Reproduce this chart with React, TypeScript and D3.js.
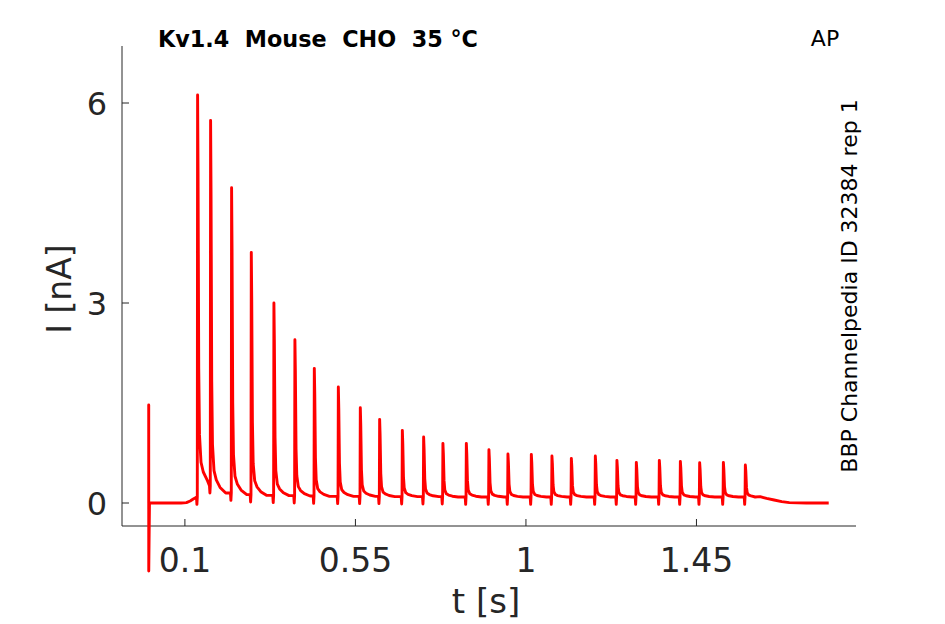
import React from "react";
import * as d3 from "d3";

// ---- data ----
const titleText = "Kv1.4  Mouse  CHO  35 °C";
const protocolText = "AP";
const sideText = "BBP Channelpedia ID 32384 rep 1";
const xTicks = [0.1, 0.55, 1, 1.45];
const xTickLabels = ["0.1", "0.55", "1", "1.45"];
const yTicks = [0, 3, 6];
const yTickLabels = ["0", "3", "6"];

// opening capacitive artefact and pre-train baseline (t [s], I [nA])
const startT = [0.0045, 0.0045, 0.0046, 0.0065, 0.05, 0.09, 0.104, 0.114, 0.122, 0.129];
const startI = [0.0, 1.47, -1.02, 0.0, 0.0, 0.0, 0.005, 0.03, 0.06, 0.08];

// spike train: peak times, peak currents, level just before each spike
const spikeTimes = [
  0.1335, 0.1678, 0.2232, 0.2752, 0.3349, 0.3903, 0.4415, 0.5049, 0.5629, 0.6139,
  0.6738, 0.73, 0.7809, 0.8427, 0.9023, 0.9525, 1.0142, 1.0686, 1.1198, 1.1831,
  1.2401, 1.2913, 1.352, 1.4075, 1.4584, 1.521, 1.579,
];
const spikePeaks = [
  6.12, 5.74, 4.73, 3.76, 3.0, 2.45, 2.02, 1.74, 1.43, 1.255,
  1.09, 0.99, 0.895, 0.895, 0.8, 0.735, 0.73, 0.705, 0.67, 0.705,
  0.64, 0.61, 0.64, 0.625, 0.605, 0.61, 0.57,
];
const preLevels = [
  0.09, 0.26, 0.15, 0.125, 0.115, 0.11, 0.105, 0.1, 0.1, 0.1,
  0.095, 0.095, 0.095, 0.09, 0.09, 0.09, 0.09, 0.09, 0.09, 0.09,
  0.09, 0.09, 0.09, 0.09, 0.09, 0.09, 0.09,
];
// tail of a spike: time after peak [s], fraction of height left
const tailOffsets = [0.0012, 0.003, 0.005, 0.009, 0.015, 0.025, 0.04];
const tailFractions = [0.8, 0.3, 0.13, 0.06, 0.035, 0.015, 0];
const dipDepth = 0.11;

// end of the train: return to zero
const endT = [1.605, 1.618, 1.635, 1.655, 1.675, 1.695, 1.74, 1.799];
const endI = [0.09, 0.095, 0.07, 0.045, 0.02, 0.006, 0.0, 0.0];

const W = 945;
const H = 624;
const INK = "#262626";
const FONT = "DejaVu Sans, sans-serif";

export default function App() {
  const x = d3.scaleLinear().domain([-0.066, 1.871]).range([122, 856]);
  const y = d3.scaleLinear().domain([-0.345, 6.855]).range([526, 46]);

  const pts: [number, number][] = [];
  startT.forEach((t, i) => pts.push([t, startI[i]]));
  spikeTimes.forEach((t, i) => {
    const pre = preLevels[i];
    const peak = spikePeaks[i];
    const next = i + 1 < preLevels.length ? preLevels[i + 1] : endI[0];
    const limit = i + 1 < spikeTimes.length ? spikeTimes[i + 1] - 0.004 : endT[0] - 0.002;
    pts.push([t - 0.003, pre]);
    pts.push([t - 0.0018, pre - dipDepth]);
    pts.push([t - 0.0008, pre]);
    pts.push([t, peak]);
    tailOffsets.forEach((o, j) => {
      if (t + o < limit) pts.push([t + o, next + tailFractions[j] * (peak - next)]);
    });
  });
  endT.forEach((t, i) => pts.push([t, endI[i]]));

  const line = d3
    .line<[number, number]>()
    .x((d) => x(d[0]))
    .y((d) => y(d[1]));

  const [x0, x1] = x.range();
  const [yb, yt] = y.range();

  return (
    <svg
      width={W}
      height={H}
      style={{ position: "fixed", left: 0, top: 0, background: "#fff" }}
      fontFamily={FONT}
    >
      <rect width={W} height={H} fill="#fff" />
      {/* axes */}
      <line x1={x0} x2={x0} y1={yt} y2={yb} stroke={INK} strokeWidth={1} />
      <line x1={x0} x2={x1} y1={yb} y2={yb} stroke={INK} strokeWidth={1} />
      {yTicks.map((v, i) => (
        <g key={"y" + i}>
          <line x1={x0} x2={x0 + 7} y1={y(v)} y2={y(v)} stroke={INK} />
          <text x={107} y={y(v)} dy="0.36em" textAnchor="end" fontSize={32} fill={INK}>
            {yTickLabels[i]}
          </text>
        </g>
      ))}
      {xTicks.map((v, i) => (
        <g key={"x" + i}>
          <line x1={x(v)} x2={x(v)} y1={yb} y2={yb - 7} stroke={INK} />
          <text x={x(v)} y={572} textAnchor="middle" fontSize={33} fill={INK}>
            {xTickLabels[i]}
          </text>
        </g>
      ))}
      {/* axis labels */}
      <text x={486} y={613} textAnchor="middle" fontSize={34} fill={INK}>
        t [s]
      </text>
      <text
        transform={`translate(71,289) rotate(-90)`}
        textAnchor="middle"
        fontSize={33}
        fill={INK}
      >
        I [nA]
      </text>
      {/* trace */}
      <path d={line(pts) || ""} fill="none" stroke="#ff0000" strokeWidth={2.9} strokeLinejoin="round" />
      {/* titles */}
      <text x={158} y={47} fontSize={22.3} fontWeight="bold" fill="#000" style={{ whiteSpace: "pre" }}>
        {titleText}
      </text>
      <text x={825} y={46} textAnchor="middle" fontSize={22} fill="#000">
        {protocolText}
      </text>
      <text
        transform={`translate(857,286) rotate(-90)`}
        textAnchor="middle"
        fontSize={22}
        fill="#000"
      >
        {sideText}
      </text>
    </svg>
  );
}
